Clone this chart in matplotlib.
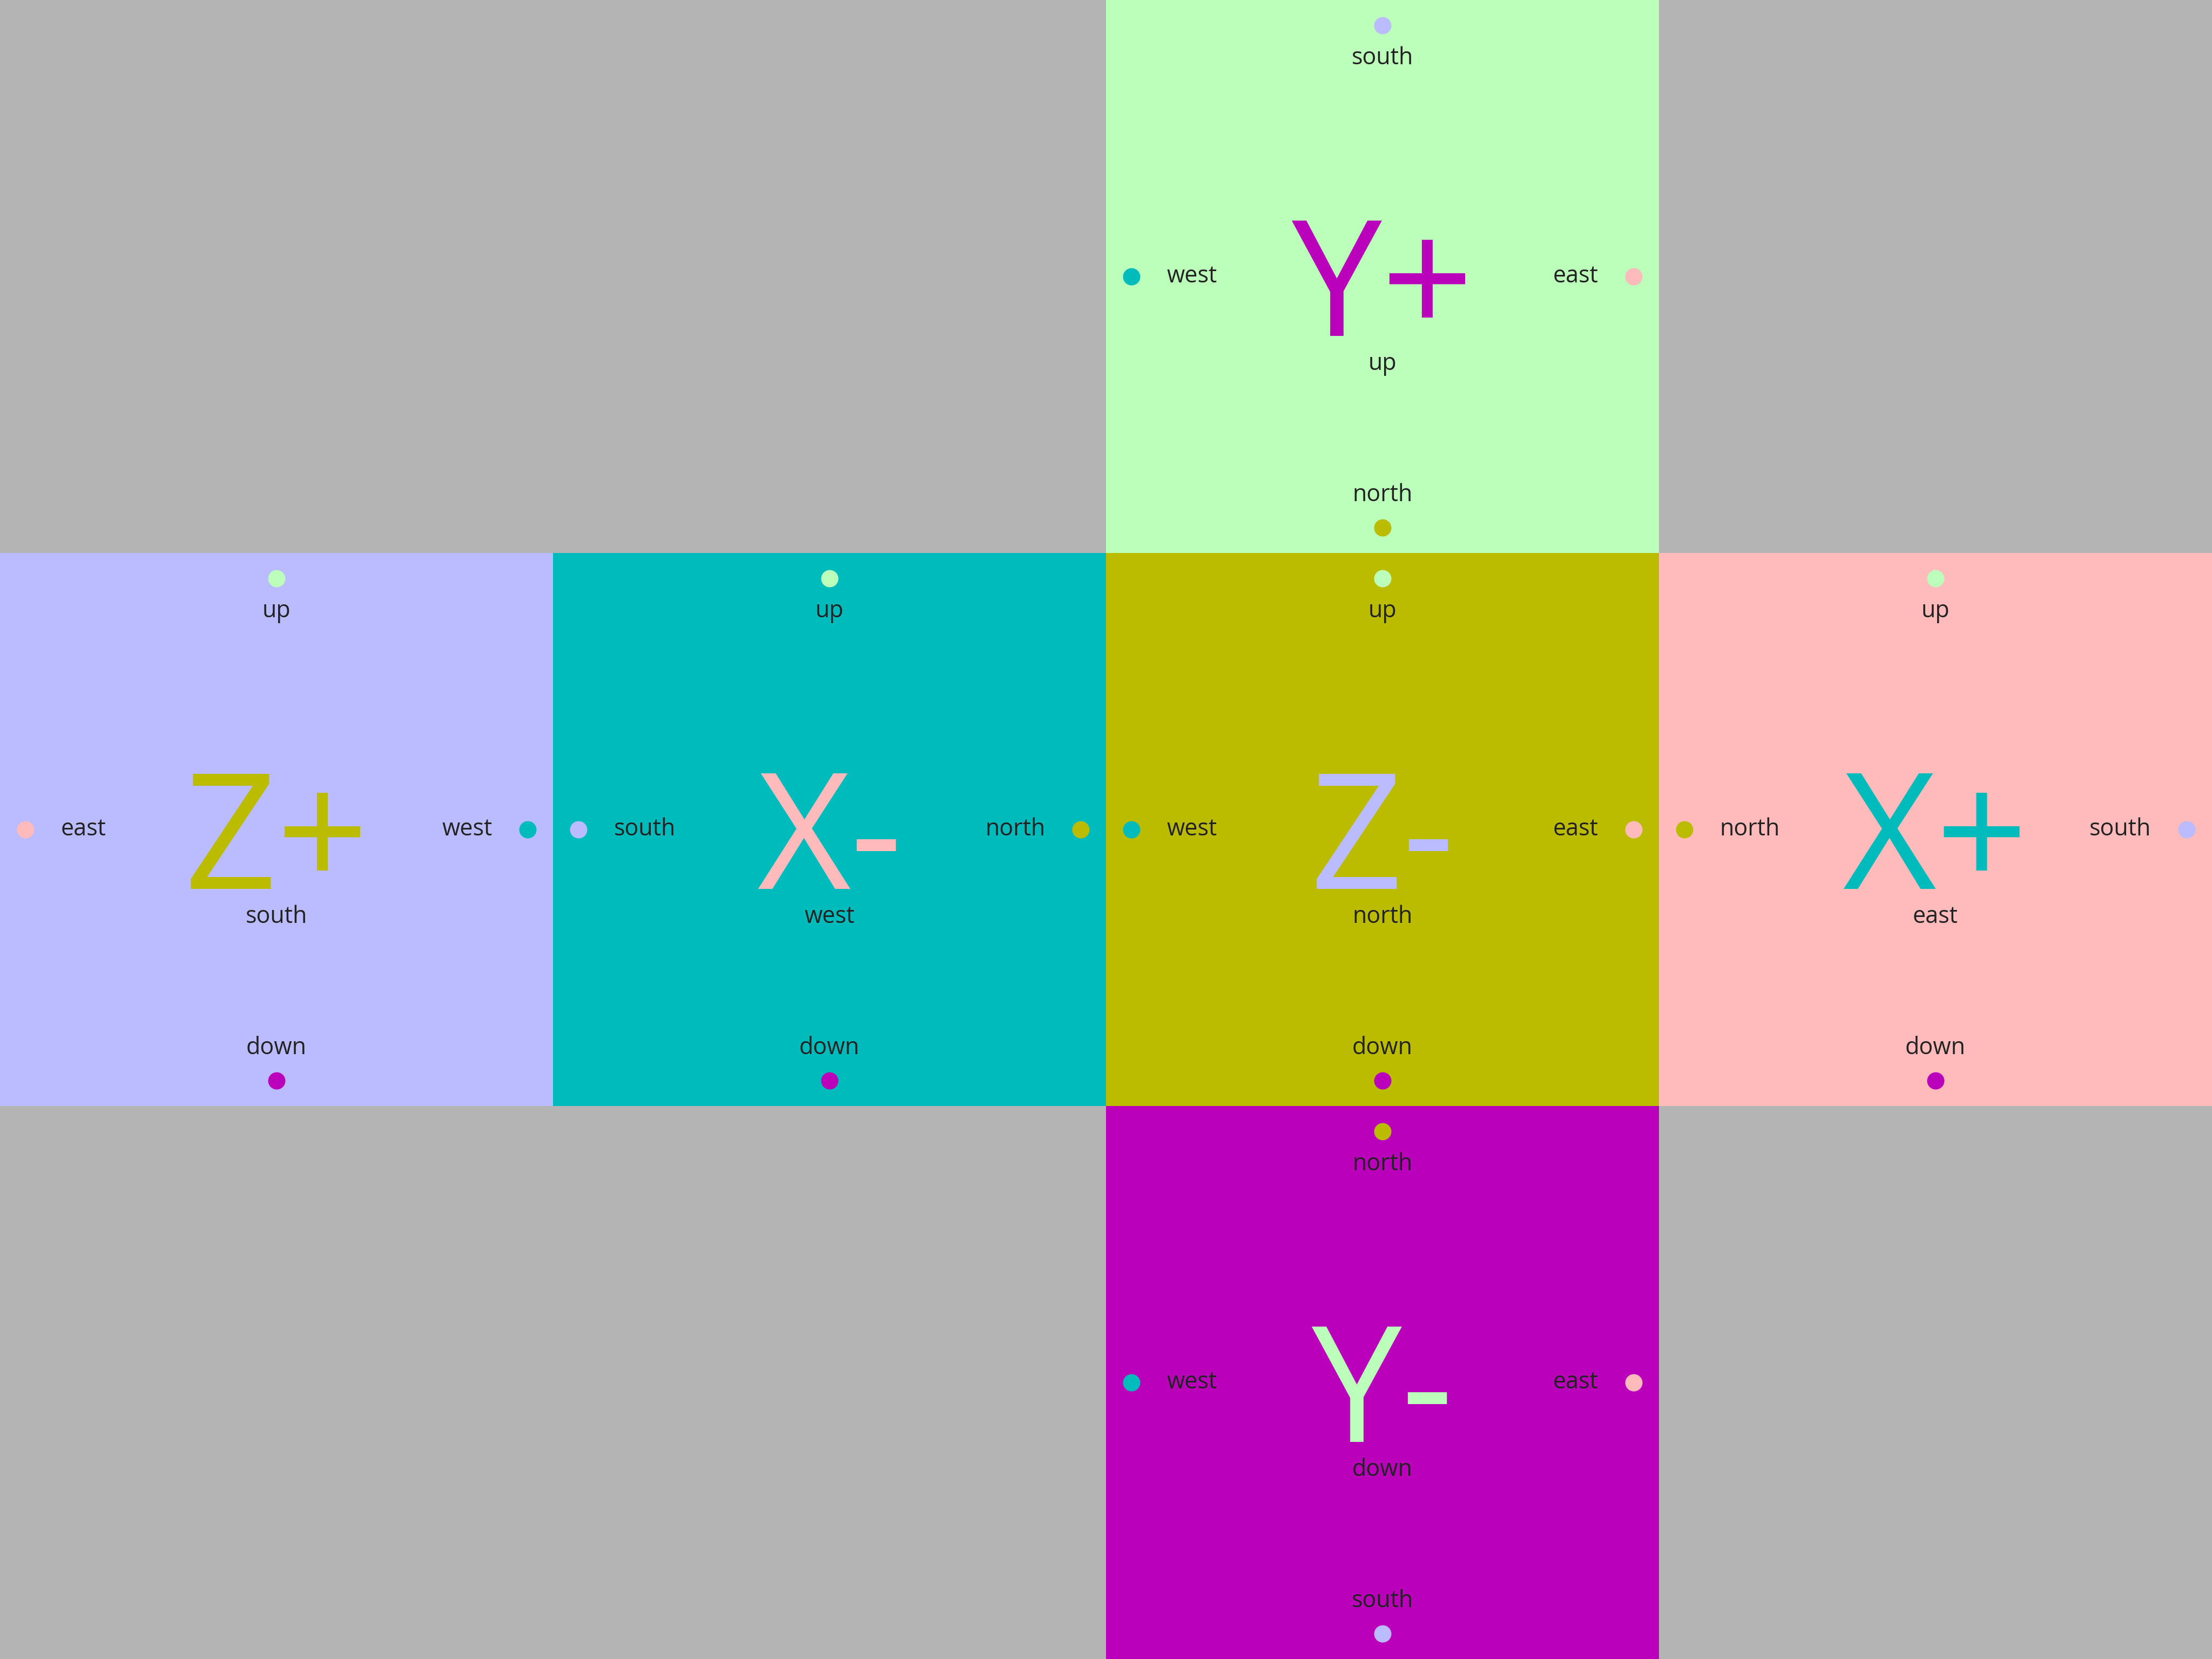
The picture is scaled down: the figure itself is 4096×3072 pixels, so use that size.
import matplotlib
matplotlib.use("Agg")
import matplotlib.pyplot as plt
from matplotlib.patches import Rectangle

plt.rcParams['font.family'] = ['Open Sans', 'DejaVu Sans']

face_names = ['Y+', 'Z+', 'X-', 'Z-', 'X+', 'Y-']
face_col = [2, 0, 1, 2, 3, 2]
face_row = [0, 1, 1, 1, 1, 2]
face_bg = ['#bbffbb', '#bbbbff', '#00bbbb', '#bbbb00', '#ffbbbb', '#bb00bb']
face_fg = ['#bb00bb', '#bbbb00', '#ffbbbb', '#bbbbff', '#00bbbb', '#bbffbb']
face_sub = ['up', 'south', 'west', 'north', 'east', 'down']
face_top = ['south', 'up', 'up', 'up', 'up', 'north']
face_left = ['west', 'east', 'south', 'west', 'north', 'west']
face_right = ['east', 'west', 'north', 'east', 'south', 'east']
face_bottom = ['north', 'down', 'down', 'down', 'down', 'south']
dir_color = {'up': '#bbffbb', 'down': '#bb00bb', 'north': '#bbbb00',
             'south': '#bbbbff', 'east': '#ffbbbb', 'west': '#00bbbb'}

fig = plt.figure(figsize=(40.96, 30.72), dpi=100)
fig.patch.set_facecolor('#b4b4b4')
ax = fig.add_axes([0, 0, 1, 1])
ax.set_xlim(0, 4)
ax.set_ylim(3, 0)
ax.axis('off')

tfs = 31
ms = 22
for i, name in enumerate(face_names):
    x0, y0 = face_col[i], face_row[i]
    ax.add_patch(Rectangle((x0, y0), 1, 1, color=face_bg[i], lw=0))
    cx, cy = x0 + 0.5, y0 + 0.5
    ax.text(cx, cy + 0.107, name, color=face_fg[i], fontsize=215, ha='center', va='baseline')
    ax.text(cx, cy + 0.158, face_sub[i], fontsize=tfs, ha='center', va='center', color='#222222')
    ax.plot(cx, y0 + 0.046, 'o', ms=ms, color=dir_color[face_top[i]])
    ax.text(cx, y0 + 0.105, face_top[i], fontsize=tfs, ha='center', va='center', color='#222222')
    ax.plot(cx, y0 + 0.954, 'o', ms=ms, color=dir_color[face_bottom[i]])
    ax.text(cx, y0 + 0.895, face_bottom[i], fontsize=tfs, ha='center', va='center', color='#222222')
    ax.plot(x0 + 0.046, cy, 'o', ms=ms, color=dir_color[face_left[i]])
    ax.text(x0 + 0.11, cy, face_left[i], fontsize=tfs, ha='left', va='center', color='#222222')
    ax.plot(x0 + 0.954, cy, 'o', ms=ms, color=dir_color[face_right[i]])
    ax.text(x0 + 0.89, cy, face_right[i], fontsize=tfs, ha='right', va='center', color='#222222')

fig.savefig('out.png', dpi=100, facecolor=fig.get_facecolor())
